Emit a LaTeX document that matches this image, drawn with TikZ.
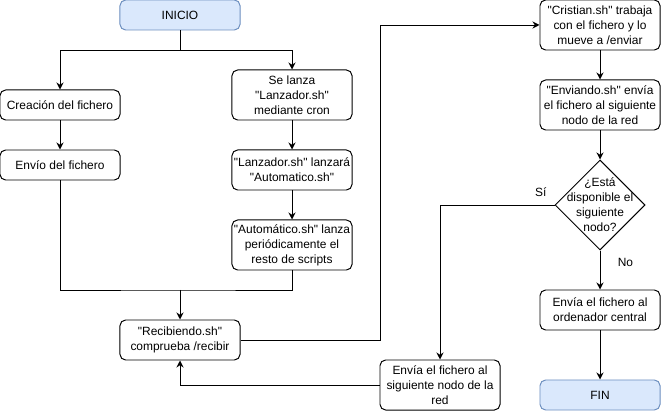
\documentclass[tikz,border=0pt]{standalone}
\usepackage{fontspec}
\setmainfont{Liberation Sans}
\usepackage{xcolor}
\usepackage{tikz}
\usetikzlibrary{positioning,arrows.meta,shapes.geometric}

\definecolor{startfill}{HTML}{DAE8FC}
\definecolor{startdraw}{HTML}{6C8EBF}
\newcommand{\cita}[1]{\textquotedbl#1\textquotedbl}

\begin{document}
\begin{tikzpicture}[x=0.025cm, y=-0.025cm,
    font=\fontsize{8.5}{10.6}\selectfont,
    box/.style={draw, rounded corners=4pt, minimum width=3cm, align=center, inner sep=1pt, line width=0.7pt},
    terminal/.style={box, fill=startfill, draw=startdraw},
    decision/.style={draw, diamond, aspect=1, inner sep=0pt, minimum width=2.25cm, minimum height=2.25cm, line width=0.7pt},
    flow/.style={-{Stealth[length=5pt,width=5pt]}, line width=0.7pt}]

\useasboundingbox (0,0) rectangle (661,411);

\node[terminal, minimum height=0.75cm] (inicio) at (180,15) {INICIO};

\node[box, minimum height=0.75cm] (creacion) at (60,105) {Creación del fichero};
\node[box, minimum height=0.75cm] (envio) at (60,165) {Envío del fichero};

\node[box, minimum height=1.25cm] (lanza) at (292,95) {Se lanza\\\cita{Lanzador.sh}\\mediante cron};
\node[box, minimum height=1cm] (lanzador) at (292,170) {\cita{Lanzador.sh} lanzará\\\cita{Automatico.sh}};
\node[box, minimum height=1.25cm] (automatico) at (292,245) {\cita{Automático.sh} lanza\\periódicamente el\\resto de scripts};

\node[box, minimum height=1cm] (recibiendo) at (180,340) {\cita{Recibiendo.sh}\\comprueba /recibir};

\node[box, minimum height=1.25cm] (cristian) at (600,25) {\cita{Cristian.sh} trabaja\\con el fichero y lo\\mueve a /enviar};
\node[box, minimum height=1.25cm] (enviando) at (600,105) {\cita{Enviando.sh} envía\\el fichero al siguiente\\nodo de la red};
\node[decision, label={[align=center]center:{¿Está\\disponible el\\siguiente\\nodo?}}] (disponible) at (600,205) {};
\node[box, minimum height=1cm] (ordenador) at (600,310) {Envía el fichero al\\ordenador central};
\node[terminal, minimum height=0.75cm] (fin) at (600,395) {FIN};

\node[box, minimum height=1.25cm] (siguiente) at (440,385) {Envía el fichero al\\siguiente nodo de la\\red};

\draw[flow] (inicio.south) -- ++(0,20) -| (creacion.north);
\draw[flow] (inicio.south) -- ++(0,20) -| (lanza.north);
\draw[flow] (creacion) -- (envio);
\draw[flow] (lanza) -- (lanzador);
\draw[flow] (lanzador) -- (automatico);

\coordinate (junta) at (180,290);
\draw[line width=0.7pt] (envio.south) |- (junta) -| (automatico.south);
\draw[flow] (junta) -- (recibiendo);

\draw[flow] (recibiendo.east) -- ++(140,0) |- (cristian.west);
\draw[flow] (cristian) -- (enviando);
\draw[flow] (enviando) -- (disponible);
\draw[flow] (disponible.west) -| node[pos=0.06, above=2pt] {Sí} (siguiente.north);
\draw[flow] (disponible) -- node[pos=0.3, right=9pt] {No} (ordenador);
\draw[flow] (ordenador) -- (fin);
\draw[flow] (siguiente.west) -| (recibiendo.south);

\end{tikzpicture}
\end{document}
